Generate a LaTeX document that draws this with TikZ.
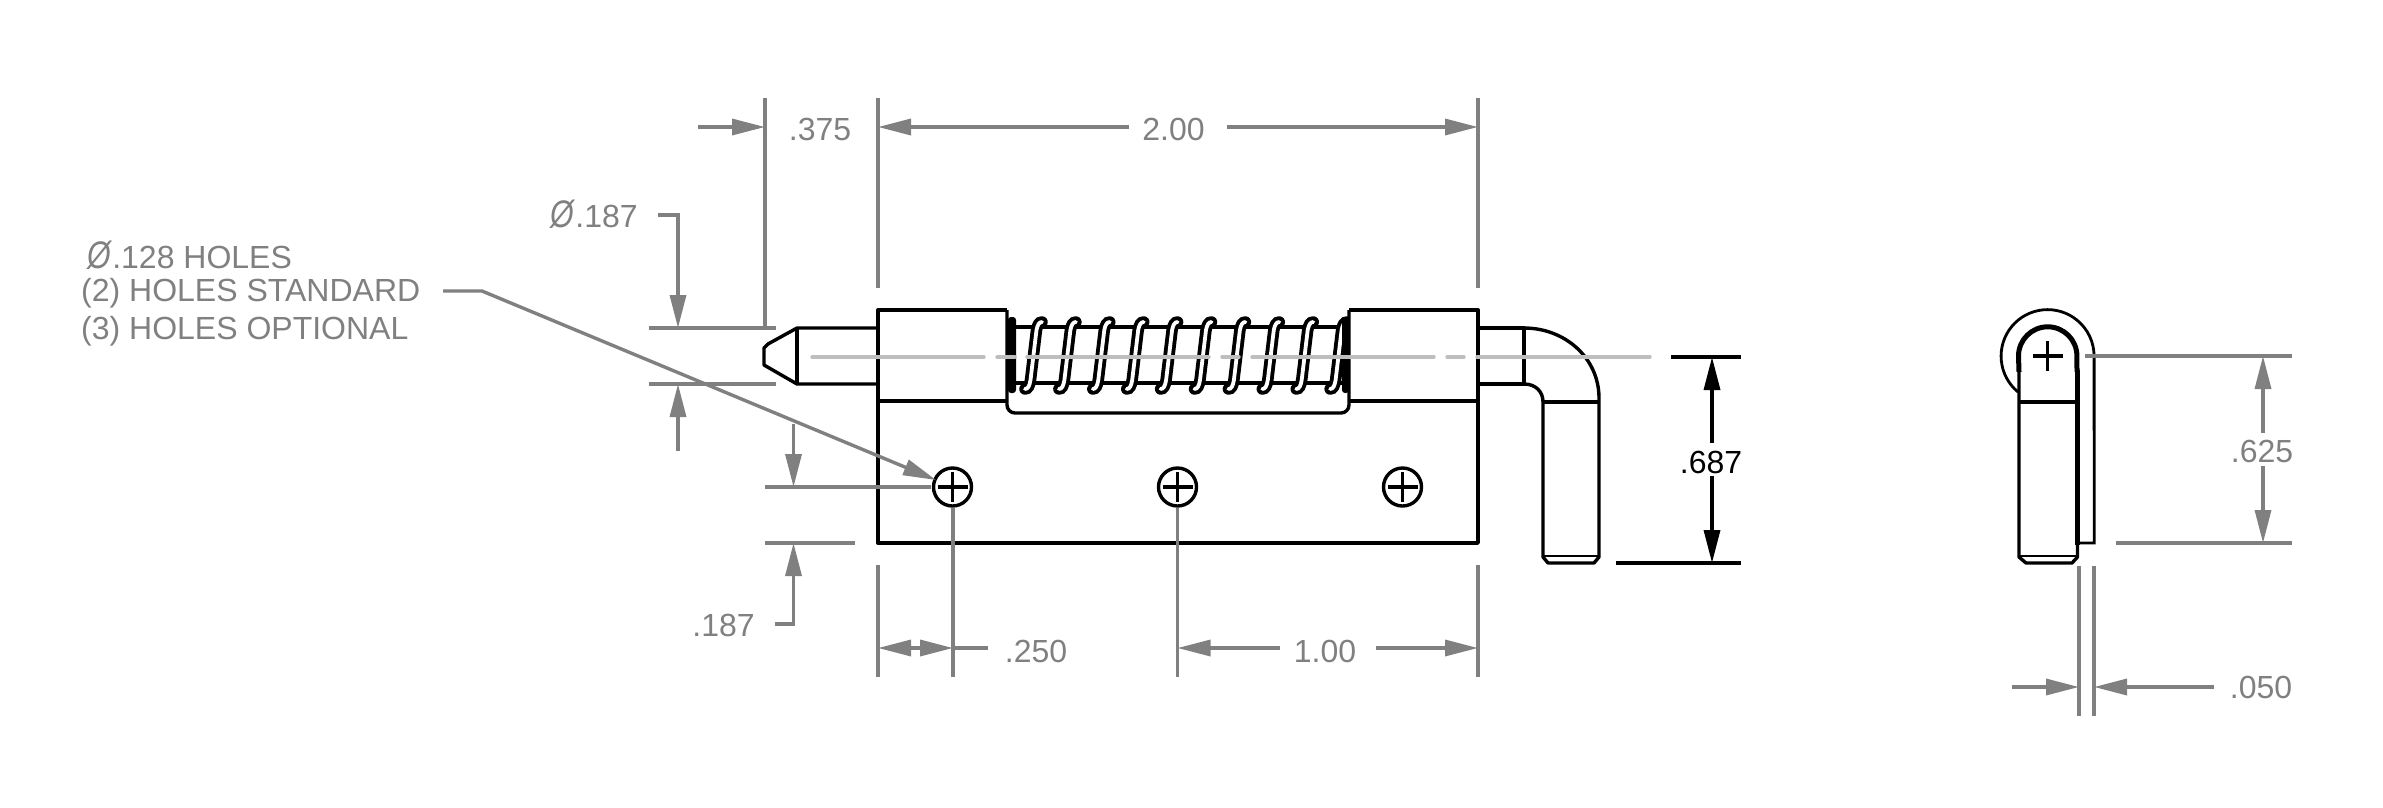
\documentclass[tikz,border=0pt]{standalone}
\usepackage{graphicx}
\usepackage{fontspec}
\setmainfont{Liberation Sans}
\usetikzlibrary{arrows.meta}
\definecolor{dimgrey}{HTML}{808080}
\definecolor{cgrey}{HTML}{BEBEBE}
\newcommand{\diaglyph}{\scalebox{0.95}[1.2]{\textit{Ø}}}
\tikzset{
  obj/.style={black,line width=3.4pt,line join=round},
  thin obj/.style={black,line width=2.8pt},
  dimline/.style={dimgrey,line width=3.4pt},
  centerl/.style={cgrey,line width=3.4pt,line cap=round},
  tipped/.style={-{Triangle[length=33pt,width=16pt]}},
  dimtext/.style={text=dimgrey,font=\fontsize{32}{32}\selectfont,inner sep=0pt,anchor=center},
  notetext/.style={text=dimgrey,font=\fontsize{32}{32}\selectfont,inner sep=0pt,anchor=west},
}
\begin{document}
\begin{tikzpicture}[x=1pt,y=-1pt]
\useasboundingbox (0,0) rectangle (2383,807);
% shaft behind spring
\draw[obj] (1012,327) -- (1345,327) (1012,383) -- (1345,383);
% spring coils
\foreach \i in {0,...,9}{
  \pgfmathsetmacro{\xb}{1025+33.9*\i}
  \def\coil{(\xb,389) .. controls (\xb+3,389) and (\xb+4.5,386) .. (\xb+5.5,380) -- (\xb+11.5,330) .. controls (\xb+12.5,325) and (\xb+14,322) .. (\xb+17,322)}
  \draw[black,line width=11.5pt,line cap=round] \coil;
  \draw[white,line width=3.8pt,line cap=round] \coil;
}
% end collars of the spring
\fill[black,rounded corners=3pt] (1008,317) rectangle (1016,393);
\fill[black,rounded corners=3pt] (1342,317) rectangle (1349,393);
% plate and barrels
\fill[white] (1349,310) rectangle (1378,401);
\draw[obj] (878,401) -- (1007,401);
\draw[obj] (1349,401) -- (1478,401);
\draw[obj] (1007,310) -- (1007,405) arc[start angle=180,end angle=90,radius=8] -- (1341,413) arc[start angle=90,end angle=0,radius=8] -- (1349,310);
\draw[obj] (1007,310) -- (878,310) -- (878,543) -- (1478,543) -- (1478,310) -- (1349,310);
% left pin
\draw[obj] (878,328) -- (797,328) -- (768,344) -- (764,348) -- (764,365) -- (797,384) -- (878,384);
\draw[obj] (797,328) -- (797,384);
% handle
\draw[obj] (1478,328) -- (1524,328) -- (1524,384) -- (1478,384);
\draw[obj] (1524,328) .. controls (1565,328) and (1599,358) .. (1599,398) -- (1599,557) -- (1594,563) -- (1548,563) -- (1543,557) -- (1543,402) .. controls (1543,392) and (1536,384) .. (1524,384);
\draw[obj] (1543,402) -- (1599,402);
\draw[thin obj] (1543,556) -- (1599,556);
% holes
\foreach \n/\x in {ha/952.5,hb/1177.5,hc/1402.5}{
  \node[draw=black,line width=3.4pt,circle,minimum size=38pt,inner sep=0pt,fill=white] (\n) at (\x,487) {};
  \draw[obj] (\x-15,487) -- (\x+15,487) (\x,472) -- (\x,502);
}
% centre line
\draw[centerl] (812,357) -- (984,357);
\draw[centerl] (997,357) -- (1015,357);
\draw[centerl] (1027,357) -- (1209,357);
\draw[centerl] (1222,357) -- (1239,357);
\draw[centerl] (1252,357) -- (1434,357);
\draw[centerl] (1447,357) -- (1464,357);
\draw[centerl] (1477,357) -- (1650,357);
% side view
\draw[thin obj] (2018,392) arc[start angle=129.5,end angle=360,radius=46.5] -- (2094.2,543) -- (2079,543);
\draw[black,line width=5pt] (2019,372) -- (2018.5,356) arc[start angle=180,end angle=360,radius=29.2] -- (2077,372);
\draw[obj] (2019,370) -- (2019,557) -- (2026,563) -- (2072,563) -- (2077.5,557) -- (2077.5,370);
\draw[line width=4.4pt] (2077.5,370) -- (2077.5,545);
\draw[obj] (2019,402) -- (2077,402);
\draw[thin obj] (2019,556) -- (2077,556);
\draw[obj] (2032.5,356) -- (2063,356) (2047.7,341) -- (2047.7,371);
% dimension .375 / 2.00
\draw[dimline] (765,98) -- (765,328);
\draw[dimline] (878,98) -- (878,288);
\draw[dimline] (1478,98) -- (1478,288);
\draw[dimline,tipped] (698,127) -- (765,127);
\node[dimtext] (t375) at (820,129) {.375};
\node[dimtext] (t200) at (1173.5,129) {2.00};
\draw[dimline,tipped] (1129,127) -- (878,127);
\draw[dimline,tipped] (1226.5,127) -- (1478,127);
% dimension dia .187
\node[dimtext] (tdia) at (594,214.5) {\diaglyph.187};
\draw[dimline] (649,328) -- (776,328) (649,384) -- (776,384);
\draw[dimline,tipped] (658,215) -- (678,215) -- (678,328);
\draw[dimline,tipped] (678,451) -- (678,384);
% dimension .187 lower
\draw[dimline] (765,487) -- (931,487) (765,543) -- (855,543);
\draw[dimline,tipped] (793.5,424) -- (793.5,487);
\node[dimtext] (t187) at (723.5,625) {.187};
\draw[dimline,tipped] (775,624) -- (793.5,624) -- (793.5,543);
% note
\node[notetext] (n1) at (87,255.5) {\diaglyph.128 HOLES};
\node[notetext] (n2) at (81,293) {(2) HOLES STANDARD};
\node[notetext] (n3) at (81,331) {(3) HOLES OPTIONAL};
\draw[dimline,tipped] (443,291) -- (482,291) -- (936,480);
% bottom dimensions
\draw[dimline] (878,565) -- (878,677) (1478,565) -- (1478,677);
\draw[dimline] (953,508) -- (953,677) (1177.5,508) -- (1177.5,677);
\draw[dimline,tipped] (918,648) -- (878,648);
\draw[dimline,tipped] (912,648) -- (953,648);
\draw[dimline] (953,648) -- (987.5,648);
\node[dimtext] (t250) at (1036,651) {.250};
\draw[dimline,tipped] (1279.5,648) -- (1177.5,648);
\node[dimtext] (t100) at (1325,651) {1.00};
\draw[dimline,tipped] (1376,648) -- (1478,648);
% .687
\draw[obj] (1671,357) -- (1741,357) (1616,563) -- (1741,563);
\draw[black,line width=3.4pt,tipped] (1712,443) -- (1712,357);
\draw[black,line width=3.4pt,tipped] (1712,476) -- (1712,563);
\node[inner sep=0pt,font=\fontsize{32}{32}\selectfont] (t687) at (1711,462) {.687};
% .625
\draw[dimline] (2085,356) -- (2292,356) (2116,543) -- (2292,543);
\draw[dimline,tipped] (2263,433) -- (2263,356);
\draw[dimline,tipped] (2263,466) -- (2263,543);
\node[dimtext] (t625) at (2262,451) {.625};
% .050
\draw[dimline] (2079,566) -- (2079,716) (2094,566) -- (2094,716);
\draw[dimline,tipped] (2012,687) -- (2079,687);
\draw[dimline,tipped] (2214,687) -- (2094,687);
\node[dimtext] (t050) at (2261,687) {.050};
\end{tikzpicture}
\end{document}
